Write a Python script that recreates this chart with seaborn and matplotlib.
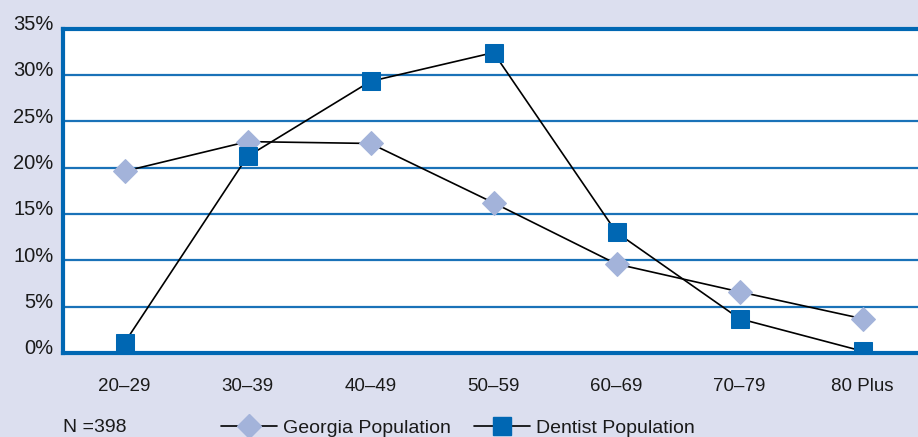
import numpy as np
import pandas as pd
import matplotlib
matplotlib.use("Agg")
import matplotlib.pyplot as plt
import matplotlib.transforms as mtransforms
from matplotlib.lines import Line2D
import seaborn as sns

# Age distribution data (percent of population)
age_groups = ["20\u201329", "30\u201339", "40\u201349", "50\u201359", "60\u201369", "70\u201379", "80 Plus"]
georgia_pct = [19.6, 22.8, 22.6, 16.2, 9.6, 6.6, 3.7]
dentist_pct = [1.1, 21.2, 29.3, 32.4, 13.0, 3.7, 0.2]
y_ticks = [0, 5, 10, 15, 20, 25, 30, 35]
sample_note = "N =398"

BG = "#DCDFEF"
BLUE = "#0067B3"
GRID = "#1A72B8"
LIGHT = "#A3B3DA"
TEXT = "#1a1a1a"

sns.set_theme(style="white")
plt.rcParams["font.family"] = ["Liberation Sans", "DejaVu Sans"]

fig = plt.figure(figsize=(9.18, 4.37), dpi=100, facecolor=BG)
W, H = 918, 437
ax = fig.add_axes([63 / W, (H - 353) / H, (924 - 63) / W, (353 - 28.5) / H])
ax.set_facecolor("white")

df = pd.DataFrame({
    "pos": np.arange(len(age_groups)),
    "Georgia Population": georgia_pct,
    "Dentist Population": dentist_pct,
})

for tk in y_ticks[1:-1]:
    ax.axhline(tk, color=GRID, lw=1.6, zorder=1)

diamond_kw = dict(marker="D", markersize=12.3, markerfacecolor=LIGHT, markeredgecolor=LIGHT)
square_kw = dict(marker="s", markersize=12.7, markerfacecolor=BLUE, markeredgecolor=BLUE)

sns.lineplot(data=df, x="pos", y="Georgia Population", ax=ax, color="black", lw=1.2,
             zorder=3, **diamond_kw)
sns.lineplot(data=df, x="pos", y="Dentist Population", ax=ax, color="black", lw=1.2,
             zorder=4, **square_kw)

ax.set_xlim(-0.5, len(age_groups) - 0.5)
ax.set_ylim(0, 35)
ax.set_xlabel("")
ax.set_ylabel("")

for side in ["left", "bottom", "top"]:
    ax.spines[side].set_visible(True)
    ax.spines[side].set_color(BLUE)
    ax.spines[side].set_linewidth(3)
ax.spines["right"].set_visible(False)

ax.set_yticks(y_ticks)
ax.set_yticklabels([f"{t}%" for t in y_ticks], fontsize=14.5, color=TEXT)
ax.set_xticks(df["pos"])
ax.set_xticklabels(age_groups, fontsize=13.5, color=TEXT)
ax.tick_params(axis="both", length=0)
ax.tick_params(axis="y", pad=7)
ax.tick_params(axis="x", pad=18)

# lift y labels slightly above their gridlines
shift = mtransforms.ScaledTranslation(0, 6 / 100, fig.dpi_scale_trans)
for lbl in ax.get_yticklabels():
    lbl.set_transform(lbl.get_transform() + shift)

fig.text(63 / W, 1 - 428 / H, sample_note, fontsize=14, color=TEXT,
         ha="left", va="center")

legend_y = 1 - 428 / H
entries = [
    (Line2D([0], [0], color="black", lw=1.2, **diamond_kw), "Georgia Population", 221),
    (Line2D([0], [0], color="black", lw=1.2, **square_kw), "Dentist Population", 474),
]
for handle, label, x0 in entries:
    fig.legend([handle], [label], loc="center left", bbox_to_anchor=(x0 / W, legend_y),
               frameon=False, fontsize=14, handlelength=2.9, handletextpad=0.3,
               labelcolor=TEXT, borderaxespad=0, borderpad=0)

fig.savefig("out.png", dpi=100, facecolor=BG)
